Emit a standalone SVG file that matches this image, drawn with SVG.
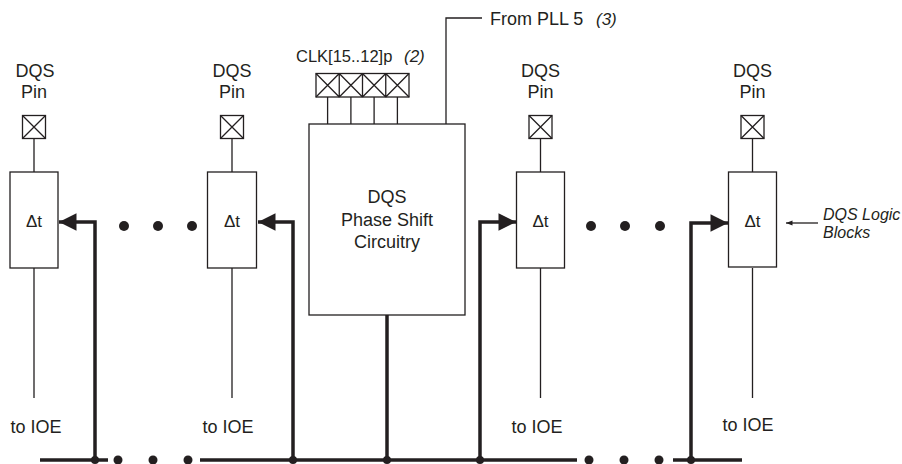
<svg xmlns="http://www.w3.org/2000/svg" width="902" height="464" viewBox="0 0 902 464">
<style>
.thin{fill:none;stroke:#231f20;stroke-width:1.3}
.box{fill:#fff;stroke:#231f20;stroke-width:1.3}
.thick{fill:none;stroke:#231f20;stroke-width:3.5}
.t{font-family:"Liberation Sans",Arial,sans-serif;font-size:18px;fill:#231f20;text-anchor:middle}
.d{font-size:17px}
.ti{font-family:"Liberation Sans",Arial,sans-serif;font-size:16px;fill:#231f20;font-style:italic}
.dot{fill:#231f20}
</style>
<defs>
<marker id="ah" viewBox="0 0 10 10" refX="10" refY="5" markerWidth="5.5" markerHeight="5" markerUnits="strokeWidth" orient="auto">
<path d="M0,0 L10,5 L0,10 z" fill="#231f20"/>
</marker>
<marker id="sa" viewBox="0 0 10 10" refX="10" refY="5" markerWidth="10" markerHeight="5" markerUnits="strokeWidth" orient="auto">
<path d="M0,1 L10,5 L0,9 z" fill="#231f20"/>
</marker>
</defs>

<g id="dqs1">
<text class="t" x="35" y="77">DQS</text>
<text class="t" x="34" y="98">Pin</text>
<rect class="box" x="22.5" y="115.5" width="23" height="23"/>
<path class="thin" d="M22.5,115.5 L45.5,138.5 M45.5,115.5 L22.5,138.5 M34,138.5 V172 M34,268 V398"/>
<rect class="box" x="10" y="172" width="48" height="96"/>
<text class="t d" x="34" y="227">Δt</text>
<text class="t" x="36" y="433">to IOE</text>
</g>

<g id="dqs2">
<text class="t" x="232" y="77">DQS</text>
<text class="t" x="232" y="98">Pin</text>
<rect class="box" x="220.5" y="115.5" width="23" height="23"/>
<path class="thin" d="M220.5,115.5 L243.5,138.5 M243.5,115.5 L220.5,138.5 M232,138.5 V172 M232,268 V398"/>
<rect class="box" x="207.5" y="172" width="49" height="96"/>
<text class="t d" x="232" y="227">Δt</text>
<text class="t" x="228" y="433">to IOE</text>
</g>

<g id="dqs3">
<text class="t" x="540.5" y="77">DQS</text>
<text class="t" x="540.5" y="98">Pin</text>
<rect class="box" x="529" y="115.5" width="23" height="23"/>
<path class="thin" d="M529,115.5 L552,138.5 M552,115.5 L529,138.5 M540.5,138.5 V172 M540.5,268 V398"/>
<rect class="box" x="516.5" y="172" width="48" height="96"/>
<text class="t d" x="540.5" y="227">Δt</text>
<text class="t" x="537" y="433">to IOE</text>
</g>

<g id="dqs4">
<text class="t" x="752.5" y="77">DQS</text>
<text class="t" x="752.5" y="98">Pin</text>
<rect class="box" x="741" y="115.5" width="23" height="23"/>
<path class="thin" d="M741,115.5 L764,138.5 M764,115.5 L741,138.5 M752.5,138.5 V172 M752.5,268 V398"/>
<rect class="box" x="728.5" y="172" width="48" height="95"/>
<text class="t d" x="752.5" y="227">Δt</text>
<text class="t" x="748" y="431">to IOE</text>
</g>

<g id="clk">
<text x="296" y="62" style="font-family:'Liberation Sans',Arial,sans-serif;font-size:16.5px;fill:#231f20">CLK[15..12]p<tspan x="404" font-style="italic" style="font-size:17px">(2)</tspan></text>
<rect class="box" x="316" y="73.5" width="93" height="23.5"/>
<path class="thin" d="M339.25,73.5 V97 M362.5,73.5 V97 M385.75,73.5 V97
M316,73.5 L339.25,97 M339.25,73.5 L316,97
M339.25,73.5 L362.5,97 M362.5,73.5 L339.25,97
M362.5,73.5 L385.75,97 M385.75,73.5 L362.5,97
M385.75,73.5 L409,97 M409,73.5 L385.75,97
M327.6,97 V124 M350.9,97 V124 M374.1,97 V124 M397.4,97 V124"/>
</g>

<g id="pll">
<path class="thin" d="M446,124 V18 H482"/>
<text x="490" y="25" style="font-family:'Liberation Sans',Arial,sans-serif;font-size:18px;fill:#231f20">From PLL 5<tspan x="596" font-style="italic" style="font-size:17px">(3)</tspan></text>
</g>

<g id="phase">
<rect class="box" x="309" y="124" width="156" height="191"/>
<text class="t" x="387" y="203">DQS</text>
<text class="t" x="387" y="226">Phase Shift</text>
<text class="t" x="387" y="248">Circuitry</text>
</g>

<g id="label">
<path class="thin" d="M818,223 H786" marker-end="url(#sa)"/>
<text class="ti" x="823" y="220">DQS Logic</text>
<text class="ti" x="823" y="238">Blocks</text>
</g>

<g id="connectors">
<path class="thick" d="M95,460 V222 H59" marker-end="url(#ah)"/>
<path class="thick" d="M293,460 V222 H258" marker-end="url(#ah)"/>
<path class="thick" d="M387,315 V460"/>
<path class="thick" d="M480,460 V222 H516" marker-end="url(#ah)"/>
<path class="thick" d="M691,460 V223 H728" marker-end="url(#ah)"/>
<path class="thick" d="M40,460 H108 M200,460 H577 M673,460 H742"/>
<circle class="dot" cx="95" cy="460" r="4"/>
<circle class="dot" cx="293" cy="460" r="4"/>
<circle class="dot" cx="387" cy="460" r="4"/>
<circle class="dot" cx="480" cy="460" r="4"/>
<circle class="dot" cx="691" cy="460" r="4"/>
<circle class="dot" cx="118" cy="460" r="4.5"/>
<circle class="dot" cx="153" cy="460" r="4.5"/>
<circle class="dot" cx="188" cy="460" r="4.5"/>
<circle class="dot" cx="589" cy="460" r="4.5"/>
<circle class="dot" cx="624" cy="460" r="4.5"/>
<circle class="dot" cx="659" cy="460" r="4.5"/>
<circle class="dot" cx="124" cy="226" r="5"/>
<circle class="dot" cx="158" cy="226" r="5"/>
<circle class="dot" cx="192" cy="226" r="5"/>
<circle class="dot" cx="591" cy="226" r="5"/>
<circle class="dot" cx="625" cy="226" r="5"/>
<circle class="dot" cx="660" cy="226" r="5"/>
</g>
</svg>
